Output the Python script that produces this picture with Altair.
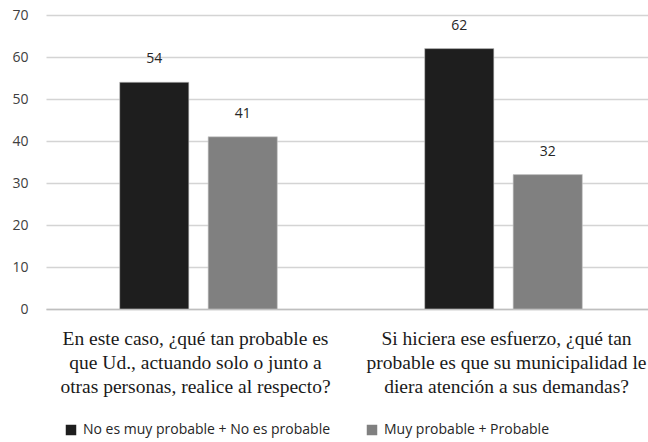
import json
import altair as alt
import pandas as pd

# Question texts, one entry per line of the axis label
question_1 = ["En este caso, ¿qué tan probable es",
              "que Ud., actuando solo o junto a",
              "otras personas, realice al respecto?"]
question_2 = ["Si hiciera ese esfuerzo, ¿qué tan",
              "probable es que su municipalidad le",
              "diera atención a sus demandas?"]
questions = ["|".join(question_1), "|".join(question_2)]

series = ["No es muy probable + No es probable", "Muy probable + Probable"]
colors = ["#1e1e1e", "#808080"]

not_likely = [54, 62]
likely = [41, 32]

rows = []
for q, a, b in zip(questions, not_likely, likely):
    rows.append({"pregunta": q, "serie": series[0], "valor": a})
    rows.append({"pregunta": q, "serie": series[1], "valor": b})
df = pd.DataFrame(rows)

sans = "Open Sans"
serif = "Liberation Serif"

x_enc = alt.X(
    "pregunta:N",
    sort=questions,
    scale=alt.Scale(paddingInner=0, paddingOuter=0, range=[0, 610]),
    axis=alt.Axis(
        title=None,
        labelAngle=0,
        labelExpr="split(datum.label, '|')",
        labelFont=serif,
        labelFontSize=19.5,
        labelLineHeight=24,
        labelColor="#1a1a1a",
        labelPadding=20,
        labelLimit=500,
        labelOffset={"condition": {"test": "datum.value === " + json.dumps(questions[1]),
                                   "value": 3},
                     "value": -3},
        ticks=False,
        domainColor="#bfbfbf",
        domainWidth=1.5,
        grid=False,
    ),
)
xoff_enc = alt.XOffset("serie:N", sort=series,
                       scale=alt.Scale(paddingInner=0.218, paddingOuter=0.833))
y_enc = alt.Y(
    "valor:Q",
    scale=alt.Scale(domain=[0, 70]),
    axis=alt.Axis(
        title=None,
        values=list(range(0, 71, 10)),
        labelFont=sans,
        labelFontSize=14,
        labelColor="#404040",
        labelPadding=18,
        ticks=False,
        domain=False,
        gridColor="#d4d4d4",
        gridWidth=1.5,
    ),
)

bars = alt.Chart(df).mark_bar(stroke="#c8c8c8", strokeWidth=0.6).encode(
    x=x_enc,
    xOffset=xoff_enc,
    y=y_enc,
    color=alt.Color(
        "serie:N",
        sort=series,
        scale=alt.Scale(domain=series, range=colors),
        legend=alt.Legend(
            title=None,
            orient="none",
            legendX=18,
            legendY=408,
            direction="horizontal",
            symbolType="square",
            symbolSize=110,
            symbolStrokeWidth=0,
            labelFont=sans,
            labelFontSize=14,
            labelColor="#262626",
            labelLimit=400,
            columnPadding=34,
            labelOffset=5,
        ),
    ),
)

labels = alt.Chart(df).mark_text(
    baseline="bottom", dy=-16, font=sans, fontSize=14, color="#262626"
).encode(
    x=alt.X("pregunta:N", sort=questions),
    xOffset=alt.XOffset("serie:N", sort=series),
    y="valor:Q",
    text="valor:Q",
)

chart = (
    alt.layer(bars, labels)
    .properties(
        width=602,
        height=294,
        autosize=alt.AutoSizeParams(type="none"),
        padding={"left": 46, "top": 15, "right": 0, "bottom": 133},
        background="white",
    )
    .configure_view(stroke=None)
)

chart.save("out.html", embed_options={"renderer": "svg", "actions": False})
